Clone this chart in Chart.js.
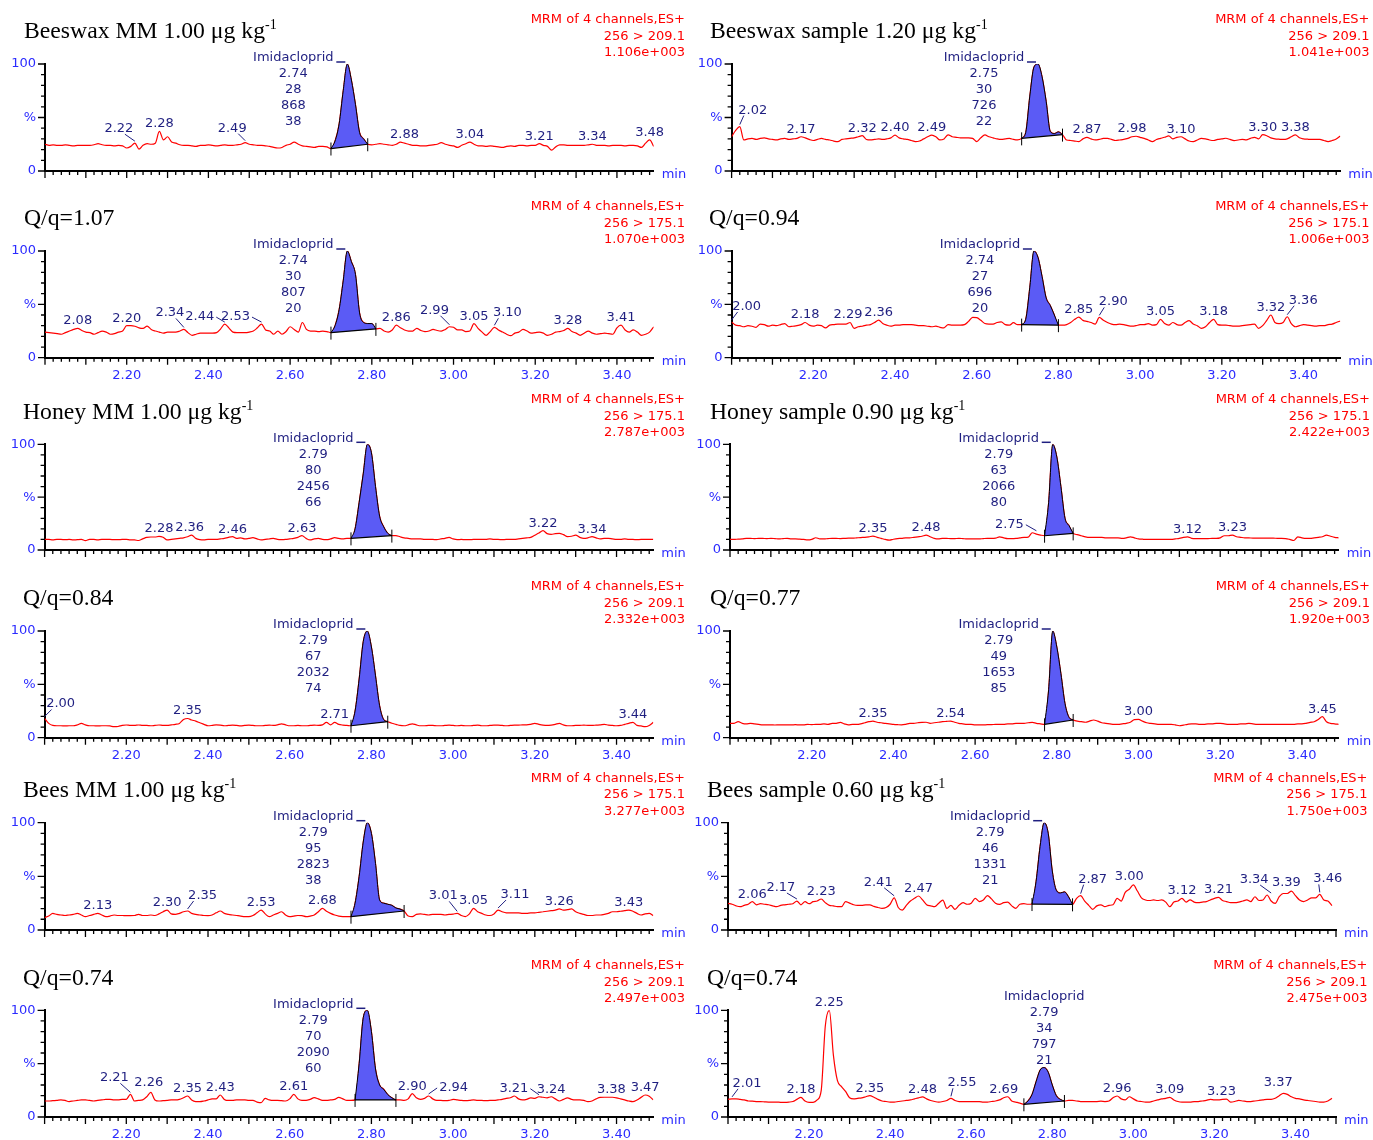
<!DOCTYPE html>
<html>
<head>
<meta charset="utf-8">
<script src="https://cdn.jsdelivr.net/npm/chart.js@4.4.0/dist/chart.umd.min.js"></script>
<style>
  body { margin: 0; background: #fff; width: 1373px; height: 1140px; position: relative; overflow: hidden; }
  canvas { position: absolute; }
  .ttl { position: absolute; font-family: "Liberation Serif", "Times New Roman", serif; font-size: 23.7px; line-height: 23.7px; white-space: nowrap; color: #000; }
  .ttl span { font-size: 14px; position: relative; top: -9px; }
  .mrm { position: absolute; width: 300px; font-family: "DejaVu Sans", sans-serif; font-size: 13px; line-height: 16.5px; color: #ff0000; text-align: right; white-space: nowrap; }
</style>
</head>
<body>
<script>
// retention time grid (min)
const rt = [
  2.00, 2.01, 2.02, 2.03, 2.04, 2.05, 2.06, 2.07, 2.08, 2.09,
  2.10, 2.11, 2.12, 2.13, 2.14, 2.15, 2.16, 2.17, 2.18, 2.19,
  2.20, 2.21, 2.22, 2.23, 2.24, 2.25, 2.26, 2.27, 2.28, 2.29,
  2.30, 2.31, 2.32, 2.33, 2.34, 2.35, 2.36, 2.37, 2.38, 2.39,
  2.40, 2.41, 2.42, 2.43, 2.44, 2.45, 2.46, 2.47, 2.48, 2.49,
  2.50, 2.51, 2.52, 2.53, 2.54, 2.55, 2.56, 2.57, 2.58, 2.59,
  2.60, 2.61, 2.62, 2.63, 2.64, 2.65, 2.66, 2.67, 2.68, 2.69,
  2.70, 2.71, 2.72, 2.73, 2.74, 2.75, 2.76, 2.77, 2.78, 2.79,
  2.80, 2.81, 2.82, 2.83, 2.84, 2.85, 2.86, 2.87, 2.88, 2.89,
  2.90, 2.91, 2.92, 2.93, 2.94, 2.95, 2.96, 2.97, 2.98, 2.99,
  3.00, 3.01, 3.02, 3.03, 3.04, 3.05, 3.06, 3.07, 3.08, 3.09,
  3.10, 3.11, 3.12, 3.13, 3.14, 3.15, 3.16, 3.17, 3.18, 3.19,
  3.20, 3.21, 3.22, 3.23, 3.24, 3.25, 3.26, 3.27, 3.28, 3.29,
  3.30, 3.31, 3.32, 3.33, 3.34, 3.35, 3.36, 3.37, 3.38, 3.39,
  3.40, 3.41, 3.42, 3.43, 3.44, 3.45, 3.46, 3.47, 3.48, 3.49
];
const xTickLabels = [2.2, 2.4, 2.6, 2.8, 3.0, 3.2, 3.4];
const yTickValues = [0, 50, 100];

// intensities (%) on the rt grid
const bwMM209 = [
  25, 24, 24.5, 24, 24, 24.5, 24, 23.5, 24, 24,
  24, 24, 24.5, 25.5, 24.5, 24, 24, 23.5, 24, 23.5,
  21.5, 23, 26, 20.5, 24, 25.5, 25, 26, 37, 29,
  32, 27, 26, 24.5, 24, 24, 23.5, 23, 24, 24,
  24.5, 24, 23.5, 24, 24.5, 24, 24, 24.5, 25, 26.5,
  25, 24.5, 24, 24, 23.5, 23, 22, 21.5, 22, 24,
  25, 27, 25, 23.5, 23, 22.5, 22, 23, 23, 22.5,
  21, 28, 44, 75, 100, 85, 62, 36, 30, 25,
  24.5, 25, 25.5, 25, 24.5, 24, 25, 27, 26, 25,
  24, 24, 23.5, 23.5, 24, 24.5, 25, 26.5, 25, 24,
  23.5, 22, 24, 25.5, 27, 25, 23.5, 23.5, 23, 23.5,
  23, 22.5, 22, 23, 23.5, 23, 24, 24, 23.5, 24,
  24, 25.5, 24, 23, 19.5, 22.5, 24.5, 24.5, 24, 24,
  24, 24, 24, 24.5, 25, 24, 24, 24, 23.5, 24,
  24, 24, 23.5, 24, 24, 23.5, 22, 26, 29, 23
];
const bwMM175 = [
  24, 23.5, 23, 22.5, 22, 23.5, 25, 26.5, 27.5, 25.5,
  24, 23.5, 22, 23.5, 25, 24, 22, 22.5, 24, 25,
  30, 30, 29.5, 28, 27.5, 29.5, 26.5, 25, 24, 23,
  24, 24, 24, 25, 26.5, 23.5, 21, 22, 23, 23,
  23, 23, 23.5, 27, 31.5, 28, 24, 23.5, 23.5, 23.5,
  24, 25, 28, 31.5, 26, 25, 22, 25, 22, 24.5,
  29, 26.5, 24, 33, 26.5, 25, 25, 24.5, 25, 24.5,
  23.5, 30, 45, 72, 100, 90, 78, 42, 33, 32,
  32, 27, 27.5, 25, 24, 26, 30.5, 28, 26, 25,
  25, 27.5, 25.5, 24.5, 25, 26.5, 25.5, 25, 26.5, 29,
  28.5, 26, 26, 24.5, 25, 32, 27.5, 24, 21, 24.5,
  28.5, 26, 24, 22, 20.6, 23, 24, 26.5, 25, 23,
  23.5, 24, 23, 21, 22, 24, 24.5, 25.5, 27.5, 24.5,
  23, 21, 23, 25, 23, 22, 22.5, 23, 22.5, 22,
  28, 30.5, 26, 24, 26, 24, 21, 22, 24, 29
];
const bwS209 = [
  32, 38, 41.5, 29, 30, 30.5, 29.5, 30.5, 31, 30,
  29.5, 29, 30, 30.5, 29.5, 30, 30.5, 32, 31, 29.5,
  28.5, 29.5, 30.5, 29.5, 29, 28, 27.5, 29.5, 30, 30.5,
  31, 32, 33, 29.5, 29, 29.5, 30, 29.5, 30, 31,
  33.5, 31, 30, 29.5, 28.5, 27.5, 28, 30, 32, 33.5,
  32, 29, 30, 33.8, 32, 31.5, 31, 31, 31, 30.5,
  27.5, 31, 33.8, 32, 31, 30, 29.5, 30, 30.5, 29.5,
  29, 30.5, 36, 70, 97, 100, 88, 65, 37, 35,
  36.5, 34, 29, 28.5, 28, 27.5, 30, 31.5, 30, 29,
  29.5, 30.5, 30.5, 29.5, 28.5, 29, 29.5, 30.5, 32, 32.5,
  31.5, 30.5, 29, 27.5, 29.5, 30.5, 31.5, 32.8, 30, 31.5,
  32, 30, 28, 27.5, 29, 30.5, 30, 29, 28.5, 29.5,
  30, 30.6, 29.5, 28.4, 29, 29.5, 29, 30.5, 31.5, 30,
  34, 33, 31, 30, 29.7, 29.5, 30, 32, 33.8, 31,
  30, 29.7, 29.5, 29.5, 29.5, 28.5, 27.5, 28.5, 30, 32.8
];
const bwS175 = [
  33.5, 30.5, 30, 29, 30, 29.5, 28.5, 31.5, 31, 29.5,
  30.5, 30, 31, 32, 29, 29.5, 30, 31, 33, 30.5,
  29.5, 30.5, 30, 28, 30.5, 31, 31.5, 31.5, 31.5, 33,
  27.5, 29, 29.5, 30.5, 31, 33, 35.3, 32, 30.5, 29.5,
  30.5, 30.5, 31, 31, 31, 30.5, 30, 30, 29.5, 29,
  29.5, 28.5, 28, 31, 30.5, 30.5, 30.5, 31, 34, 37.8,
  37.5, 35, 32, 31.5, 31.5, 33, 33.5, 31, 30.5, 32.8,
  31, 31, 36, 66, 100, 94, 76, 56, 49, 40,
  30.5, 30.5, 31, 33, 36, 38, 35, 34, 33, 31.5,
  37.8, 35, 33, 31.5, 31, 31.5, 31, 30, 29.5, 30,
  31, 31, 32, 30.5, 31, 36, 32, 30.5, 33, 31,
  30.5, 33, 34.7, 31.5, 30, 27.5, 29, 33, 36, 31,
  30.5, 30.5, 30, 29.5, 29.5, 30, 30.5, 31, 31.5, 27.5,
  30, 35, 40, 33, 32, 33, 38.4, 32, 29, 30,
  31, 30.5, 30, 29.5, 30, 30, 31, 31.5, 33, 34.4
];
const hoMM175 = [
  10, 10, 9.5, 10, 10, 9.8, 10, 9.5, 9.8, 10,
  8.8, 10, 10, 9.5, 10, 10, 10, 9.8, 9.8, 10,
  10, 9.5, 9.5, 9, 10.5, 12, 12.3, 12.3, 12.8, 12,
  9.5, 10, 10.5, 11, 11.5, 12.5, 14, 11, 9.8, 9.5,
  10, 10, 10, 10.5, 11, 12, 12.6, 11, 11.5, 10.5,
  11, 11.7, 10.5, 9.5, 10, 10.5, 11, 10, 9.8, 10,
  10.5, 11, 12, 13.6, 11, 9.5, 10.5, 11, 10, 9.8,
  10.5, 11.7, 11, 10.5, 11, 11, 20, 45, 72, 100,
  92, 60, 32, 22, 15.8, 13.6, 13.6, 12.5, 11.5, 11,
  10.5, 10.5, 10.5, 10, 10, 10, 9.8, 10.5, 11, 12,
  10.5, 9.8, 10, 9.8, 9.8, 10, 10, 10, 10, 10.5,
  10, 10, 9.8, 10, 10, 10, 10.5, 11, 11.5, 12,
  14, 16, 18.3, 15.5, 14.8, 15.5, 15.8, 14.5, 12.6, 13,
  14, 12, 11, 11.5, 12.6, 11.5, 10.5, 11, 11, 10.5,
  10, 10, 10.5, 10, 10, 9.8, 10, 10, 10, 10
];
const hoMM209 = [
  18, 13.4, 11.5, 11.2, 11.2, 11, 11.2, 11.2, 12, 13.4,
  12, 11.2, 11.2, 11, 11.2, 11.2, 11, 10.3, 10.5, 11.5,
  11.9, 11.5, 11.5, 11.9, 11.5, 11.5, 11.2, 11.5, 11.9, 11.5,
  11.5, 12, 12.5, 13.4, 17, 18, 16.6, 15.5, 14, 12.5,
  11.2, 11.5, 12, 11.8, 11.2, 11.5, 11.8, 11.5, 11, 11.5,
  11.8, 11.5, 11.2, 11.2, 11.5, 11.8, 11.5, 12, 13, 12,
  11.2, 11.2, 11.5, 11.2, 11.2, 11.5, 11.8, 11.5, 12, 14.4,
  12, 14.4, 12.5, 11.8, 11.5, 11.2, 25, 55, 90, 100,
  85, 58, 30, 17, 15, 13.5, 12.5, 11.5, 11.2, 12,
  13, 12, 11.2, 11.2, 11.5, 11.5, 11.2, 11.2, 11.5, 11.8,
  11.5, 11.2, 11.5, 11.2, 11.2, 11.5, 11.8, 11.2, 11.2, 11.5,
  11.8, 11.8, 11.5, 11.2, 11.5, 11.8, 11.8, 12, 12, 12.5,
  13.4, 12.5, 11.8, 11.5, 11.8, 12.5, 13.4, 12, 11.2, 11.2,
  11.5, 11.5, 11.8, 11.5, 11.5, 11.8, 12, 12.5, 11.8, 11.5,
  11.2, 11.5, 12.5, 13.5, 14.4, 11.5, 11, 10.3, 11.5, 14.4
];
const hoS175 = [
  10, 10, 10.3, 10.5, 11, 11, 10.8, 11, 11, 10.8,
  11, 10.8, 10.5, 10.8, 11, 10.5, 10.5, 10.3, 10, 9.5,
  10, 11.6, 10.5, 10.5, 10.8, 11, 11, 10.8, 11, 11.2,
  11.2, 11.5, 11.8, 12, 12.5, 13.2, 12, 11, 10, 9.4,
  10.2, 10.8, 11, 11.5, 11.5, 12, 12.5, 13, 14.1, 12.5,
  11, 10.5, 11, 11, 10.8, 10.8, 11, 10.8, 10.5, 10.5,
  10.5, 10.5, 10.8, 11, 11, 11.2, 12.5, 11.5, 10.8, 10.8,
  11, 11.5, 12, 12.2, 16.3, 15, 14.1, 13.5, 45, 100,
  88, 60, 30, 23, 15.7, 14.5, 13.5, 12.5, 12, 12,
  12, 12, 11.5, 11.5, 11.5, 11.5, 11, 11.5, 12.5, 11.5,
  10.5, 10.2, 10, 10, 10, 10, 10, 10, 10, 10.5,
  11, 12, 12.5, 11, 10.8, 10.8, 10.8, 10.8, 11, 11,
  11.5, 13.5, 13.5, 14.1, 12.5, 12, 11.5, 11.5, 11.2, 11.2,
  11.2, 11.2, 11.2, 11.2, 11, 11, 10.8, 10, 9, 12.5,
  11.5, 11, 11, 11.5, 12, 12.5, 14.1, 13, 12, 11.5
];
const hoS209 = [
  13.4, 13.5, 15, 13.5, 13, 13.5, 13, 12.5, 12, 12,
  12, 11.9, 12, 12, 12, 12, 12.2, 12, 12, 12.5,
  12.2, 12.5, 12.5, 13, 12.5, 13.4, 13.5, 14.4, 13, 12,
  12.5, 12.5, 13, 14, 15, 15.6, 14.5, 14, 13.4, 13,
  12.5, 12.2, 12, 12.5, 13.4, 13.5, 14, 14.4, 14.5, 13.5,
  14, 14.5, 15, 15.3, 15.6, 14.5, 13.5, 13, 12.5, 12.5,
  12, 12, 12, 12.2, 12.2, 12.5, 12.5, 12.5, 13, 13,
  13.4, 13.4, 13.5, 14, 14.4, 13.5, 13, 12.5, 45, 100,
  85, 60, 32, 19, 16.6, 15.5, 15, 14.5, 15.5, 16.6,
  15.5, 14, 13.5, 13, 12.5, 12.5, 13, 13.5, 14.5, 17,
  17.2, 15.5, 14, 13.4, 13, 12.5, 12.5, 12.5, 12.5, 12,
  11.2, 11.8, 12.5, 13, 13, 12.5, 12.5, 13, 13, 13.4,
  13.4, 13, 12.5, 12.5, 12.5, 13, 13, 13.4, 13, 12.5,
  12.5, 12.5, 12.5, 12.5, 12.5, 12.5, 12.5, 12.5, 12.5, 13,
  13, 13.5, 14.4, 15, 17, 19.7, 15, 13.4, 13, 12.5
];
const beMM175 = [
  11.5, 13, 15.5, 14.5, 14, 13.5, 14, 14.5, 15.5, 14,
  12.4, 13.5, 14.5, 15.5, 14, 12.5, 13, 14, 13.5, 13.5,
  13.4, 13.4, 13.5, 14.6, 13.5, 13.5, 14, 13.5, 15, 17,
  18.6, 15, 14.5, 15.5, 17, 17.7, 15.5, 14.5, 14, 13.5,
  13.4, 14, 16, 17.7, 15.5, 14.5, 14, 13.5, 13, 12.4,
  12.4, 13.5, 16, 18.6, 15, 12.4, 14, 15.5, 17, 14,
  12.4, 13, 13.5, 13.4, 12.5, 13, 14, 17, 20.2, 17.5,
  15.5, 14, 13, 12.5, 12.4, 12.4, 25, 50, 82, 100,
  90, 62, 28, 25, 24, 23, 20.5, 19.5, 17.7, 13,
  12.4, 14.5, 15, 14.5, 14, 14.5, 14.5, 14.5, 14, 14.5,
  14.8, 15.5, 13.5, 12.5, 15, 20.2, 17, 15.5, 14, 13.5,
  15, 18.6, 17, 16, 16, 16, 16, 15.5, 15.5, 16,
  16, 16.5, 17, 17.5, 18, 18.5, 19.6, 18.5, 19, 19.6,
  17, 15.5, 14.5, 13.5, 13.5, 14, 14, 14.5, 15.5, 17,
  17, 17.5, 18, 18.6, 17.5, 15.5, 14, 15, 15.5, 13.4
];
const beMM209 = [
  15, 15, 15.3, 15.5, 16, 15.5, 14.5, 15, 15.5, 16,
  16, 15.5, 15, 15.5, 16, 16.5, 16.6, 16, 16, 16.5,
  16.6, 21.2, 15, 15.5, 16, 19, 23.1, 16, 15, 15.3,
  15.5, 16, 16, 16.5, 18, 19.7, 16, 14.5, 14.4, 15,
  16, 17, 17, 20.6, 16.5, 15.5, 15.5, 16, 16, 16,
  15.5, 15.5, 14, 13.4, 17.5, 16, 15.5, 15.5, 15.3, 15,
  17, 21.2, 17, 15.5, 15.5, 16.5, 18.1, 17, 15.5, 15.5,
  16, 16.5, 18.4, 17, 15.5, 15.5, 16, 50, 93, 100,
  80, 45, 30, 26, 21, 18, 16, 16, 15.5, 17,
  22, 18, 16.5, 17.5, 19.7, 17, 15.5, 15.5, 15.3, 15.5,
  16.5, 16, 15.5, 15.3, 15.5, 16, 15.5, 15.5, 15.3, 15.5,
  15.5, 16, 16.5, 17.5, 18, 19.7, 17, 16, 16.5, 18,
  17.5, 19, 18.5, 18, 19, 17, 15, 16.5, 18, 16.5,
  16, 16, 15.5, 14.4, 15, 17, 18.4, 18.5, 18.5, 18.5,
  18, 17, 16, 15, 14.4, 16, 18.4, 20.6, 19.5, 16
];
const beS175 = [
  24.8, 24, 22.5, 21.7, 23, 24, 26.4, 23.5, 24.5, 24,
  23.5, 22.5, 21.7, 23, 23.5, 24, 24.5, 27, 23.5, 26.4,
  24.5, 26.4, 27, 28.9, 25.5, 23, 22.5, 21.7, 21.7, 26.4,
  25, 23.5, 23, 23, 23.5, 23.5, 22, 21, 20.2, 21,
  24, 30, 21, 18.6, 23, 27, 29.5, 31.7, 28, 23.5,
  22.5, 21.7, 25, 27.9, 20.2, 23, 19.3, 23, 25.5, 24,
  25, 29.5, 26.5, 28, 32, 29, 25, 23.9, 25.5, 26,
  22.5, 20.2, 24, 24.5, 24, 24.2, 45, 78, 100, 90,
  55, 37, 34.5, 35.5, 31, 23.9, 29.5, 32, 27, 23,
  19.3, 22.5, 23.5, 21.7, 23, 23.5, 29.5, 27, 35, 38,
  42, 36.3, 30, 28, 27.5, 28, 27.5, 28, 26, 21.7,
  26, 27, 29.5, 26, 28, 26, 25.5, 26, 26.5, 28,
  29.5, 30.4, 27.5, 26.5, 25.5, 25.5, 26, 27, 28, 26.5,
  31, 27.5, 28, 32.6, 27, 24.8, 31, 34, 34, 36.3,
  32, 28, 26.5, 28, 30, 30, 33.2, 28, 27, 22.7
];
const beS209 = [
  16.6, 17, 17, 16.5, 16, 15, 14.8, 14.5, 14.4, 14.2,
  14, 14, 14, 13.8, 13.8, 14, 14.5, 16.5, 18.4, 15,
  13.8, 13.8, 16, 25, 85, 100, 58, 34, 28.5, 24,
  18, 17, 17.5, 18, 19, 20, 18.5, 16.5, 15, 14.5,
  14, 14, 14.5, 15, 15.5, 16, 17, 18, 18.8, 17,
  15.5, 14.5, 14, 14.5, 15.5, 17.5, 15.5, 14.5, 14.5, 14.5,
  14.5, 14.5, 14.5, 14, 14, 14.5, 15, 16, 18, 19,
  15, 14, 13, 11.9, 15, 21, 33, 44, 46.3, 42,
  30, 20, 16.5, 15, 15.5, 15.5, 15, 14.5, 14.5, 14.5,
  14.5, 14.5, 14.8, 14.5, 15, 18.1, 19.7, 17, 16, 19,
  17, 15, 14.5, 14, 14, 15, 16, 17, 17.5, 18.4,
  16, 14.5, 14, 14, 14, 14.5, 14.5, 15, 15.5, 16.6,
  16, 16, 16.6, 16.8, 14, 14.5, 15.5, 15, 14.5, 14.5,
  15, 15.5, 16, 16.5, 16.5, 17.5, 20, 22.2, 21.2, 19,
  17.5, 17, 16, 15.5, 15, 14.5, 14, 14, 15, 17.5
];

// integration windows (start, end rt)
const bwMM209Peak = [2.70, 2.79];
const bwMM175Peak = [2.70, 2.81];
const bwS209Peak = [2.71, 2.81];
const bwS175Peak = [2.71, 2.80];
const hoMM175Peak = [2.75, 2.85];
const hoMM209Peak = [2.75, 2.84];
const hoS175Peak = [2.77, 2.84];
const hoS209Peak = [2.77, 2.84];
const beMM175Peak = [2.75, 2.88];
const beMM209Peak = [2.76, 2.86];
const beS175Peak = [2.75, 2.85];
const beS209Peak = [2.73, 2.83];

// peak report: rt, height, area, S/N
const bwMM209Info = ['2.74', '28', '868', '38'];
const bwMM175Info = ['2.74', '30', '807', '20'];
const bwS209Info = ['2.75', '30', '726', '22'];
const bwS175Info = ['2.74', '27', '696', '20'];
const hoMM175Info = ['2.79', '80', '2456', '66'];
const hoMM209Info = ['2.79', '67', '2032', '74'];
const hoS175Info = ['2.79', '63', '2066', '80'];
const hoS209Info = ['2.79', '49', '1653', '85'];
const beMM175Info = ['2.79', '95', '2823', '38'];
const beMM209Info = ['2.79', '70', '2090', '60'];
const beS175Info = ['2.79', '46', '1331', '21'];
const beS209Info = ['2.79', '34', '797', '21'];

// labelled minor peaks
const bwMM209Tags = ['2.22', '2.28', '2.49', '2.88', '3.04', '3.21', '3.34', '3.48'];
const bwMM175Tags = ['2.08', '2.20', '2.34', '2.44', '2.53', '2.86', '2.99', '3.05', '3.10', '3.28', '3.41'];
const bwS209Tags = ['2.02', '2.17', '2.32', '2.40', '2.49', '2.87', '2.98', '3.10', '3.30', '3.38'];
const bwS175Tags = ['2.00', '2.18', '2.29', '2.36', '2.85', '2.90', '3.05', '3.18', '3.32', '3.36'];
const hoMM175Tags = ['2.28', '2.36', '2.46', '2.63', '3.22', '3.34'];
const hoMM209Tags = ['2.00', '2.35', '2.71', '3.44'];
const hoS175Tags = ['2.35', '2.48', '2.75', '3.12', '3.23'];
const hoS209Tags = ['2.35', '2.54', '3.00', '3.45'];
const beMM175Tags = ['2.13', '2.30', '2.35', '2.53', '2.68', '3.01', '3.05', '3.11', '3.26', '3.43'];
const beMM209Tags = ['2.21', '2.26', '2.35', '2.43', '2.61', '2.90', '2.94', '3.21', '3.24', '3.38', '3.47'];
const beS175Tags = ['2.06', '2.17', '2.23', '2.41', '2.47', '2.87', '3.00', '3.12', '3.21', '3.34', '3.39', '3.46'];
const beS209Tags = ['2.01', '2.18', '2.25', '2.35', '2.48', '2.55', '2.69', '2.96', '3.09', '3.23', '3.37'];

const panels = [
  { id: 'L1', title: 'Beeswax MM 1.00 \u03bcg kg', sup: true, values: bwMM209, peak: bwMM209Peak, info: bwMM209Info, tags: bwMM209Tags, trans: '256 > 209.1', scale: '1.106e+003' },
  { id: 'L2', title: 'Q/q=1.07', values: bwMM175, peak: bwMM175Peak, info: bwMM175Info, tags: bwMM175Tags, trans: '256 > 175.1', scale: '1.070e+003' },
  { id: 'R1', title: 'Beeswax sample 1.20 \u03bcg kg', sup: true, values: bwS209, peak: bwS209Peak, info: bwS209Info, tags: bwS209Tags, trans: '256 > 209.1', scale: '1.041e+003' },
  { id: 'R2', title: 'Q/q=0.94', values: bwS175, peak: bwS175Peak, info: bwS175Info, tags: bwS175Tags, trans: '256 > 175.1', scale: '1.006e+003' },
  { id: 'L3', title: 'Honey MM 1.00 \u03bcg kg', sup: true, values: hoMM175, peak: hoMM175Peak, info: hoMM175Info, tags: hoMM175Tags, trans: '256 > 175.1', scale: '2.787e+003' },
  { id: 'L4', title: 'Q/q=0.84', values: hoMM209, peak: hoMM209Peak, info: hoMM209Info, tags: hoMM209Tags, trans: '256 > 209.1', scale: '2.332e+003' },
  { id: 'R3', title: 'Honey sample 0.90 \u03bcg kg', sup: true, values: hoS175, peak: hoS175Peak, info: hoS175Info, tags: hoS175Tags, trans: '256 > 175.1', scale: '2.422e+003' },
  { id: 'R4', title: 'Q/q=0.77', values: hoS209, peak: hoS209Peak, info: hoS209Info, tags: hoS209Tags, trans: '256 > 209.1', scale: '1.920e+003' },
  { id: 'L5', title: 'Bees MM 1.00 \u03bcg kg', sup: true, values: beMM175, peak: beMM175Peak, info: beMM175Info, tags: beMM175Tags, trans: '256 > 175.1', scale: '3.277e+003' },
  { id: 'L6', title: 'Q/q=0.74', values: beMM209, peak: beMM209Peak, info: beMM209Info, tags: beMM209Tags, trans: '256 > 209.1', scale: '2.497e+003' },
  { id: 'R5', title: 'Bees sample 0.60 \u03bcg kg', sup: true, values: beS175, peak: beS175Peak, info: beS175Info, tags: beS175Tags, trans: '256 > 175.1', scale: '1.750e+003' },
  { id: 'R6', title: 'Q/q=0.74', values: beS209, peak: beS209Peak, info: beS209Info, tags: beS209Tags, trans: '256 > 209.1', scale: '2.475e+003' }
];

// page layout of each plot area (px)
const boxes = {
  L1: { left: 45, top: 64, bottom: 171, width: 608.7, xMax: 3.49, xLabels: false, titleX: 24, infoRight: 685 },
  L2: { left: 45, top: 251, bottom: 357.7, width: 608.7, xMax: 3.49, xLabels: true, titleX: 24, infoRight: 685 },
  L3: { left: 44.6, top: 444.3, bottom: 550, width: 608.7, xMax: 3.49, xLabels: false, titleX: 23, infoRight: 685 },
  L4: { left: 44.6, top: 631, bottom: 737.7, width: 608.7, xMax: 3.49, xLabels: true, titleX: 23, infoRight: 685 },
  L5: { left: 44.6, top: 822.7, bottom: 930, width: 608.7, xMax: 3.49, xLabels: false, titleX: 23, infoRight: 685 },
  L6: { left: 44.6, top: 1010.3, bottom: 1117, width: 608.7, xMax: 3.49, xLabels: true, titleX: 23, infoRight: 685 },
  R1: { left: 731.6, top: 64, bottom: 171, width: 608.7, xMax: 3.49, xLabels: false, titleX: 710, infoRight: 1369.5 },
  R2: { left: 731.6, top: 251, bottom: 357.7, width: 608.7, xMax: 3.49, xLabels: true, titleX: 709, infoRight: 1369.5 },
  R3: { left: 730, top: 444.3, bottom: 550, width: 608.7, xMax: 3.49, xLabels: false, titleX: 710, infoRight: 1370 },
  R4: { left: 730, top: 631, bottom: 737.7, width: 608.7, xMax: 3.49, xLabels: true, titleX: 710, infoRight: 1370 },
  R5: { left: 728, top: 822.7, bottom: 930, width: 608, xMax: 3.50, xLabels: false, titleX: 707, infoRight: 1367.5 },
  R6: { left: 728, top: 1010.3, bottom: 1117, width: 608, xMax: 3.50, xLabels: true, titleX: 707, infoRight: 1367.5, blockAbove: true }
};

// label offsets [dx px, gap px above the peak]
const tagShift = {
  L1: { '2.22': [-16, 11], '2.49': [-13, 11] },
  L2: { '2.34': [-14, 13], '2.44': [-25, 4], '2.53': [-26, 4], '2.99': [-15, 13], '3.10': [13, 11] },
  R1: { '2.02': [13, 13] },
  R2: { '2.00': [15, 12], '2.29': [-2, 4], '2.90': [14, 12], '3.36': [16, 13] },
  L3: { '2.36': [-2, 4] },
  L4: { '2.00': [16, 11] },
  R3: { '2.75': [-27, 5] },
  R4: {},
  L5: { '2.35': [15, 12], '3.01': [-14, 14], '3.11': [17, 12] },
  L6: { '2.21': [-16, 13], '2.26': [-2, 6], '2.94': [25, 5], '3.21': [-25, 5], '3.38': [3, 4] },
  R5: { '2.17': [-16, 10], '2.41': [-16, 12], '2.87': [12, 13], '3.00': [-4, 5], '3.34': [-17, 12], '3.39': [-5, 5], '3.46': [8, 12] },
  R6: { '2.01': [15, 12], '2.55': [11, 12], '2.69': [-4, 4], '3.23': [-5, 4], '3.37': [-5, 7] }
};

const AXIS_BLUE = '#2b2bff';
const NAVY = '#1f1f80';
const SANS = '"DejaVu Sans", sans-serif';
Chart.defaults.font.family = SANS;
Chart.defaults.font.size = 13;

const idxOf = t => Math.round((t - 2) * 100);

const chromPlugin = {
  id: 'chrom',
  afterDraw(chart, args, opts) {
    const p = opts.panel;
    const box = boxes[p.id];
    const { ctx, chartArea: a, scales: { x, y } } = chart;
    ctx.save();

    // minor / major tick marks
    ctx.strokeStyle = '#000';
    ctx.lineWidth = 1.3;
    ctx.beginPath();
    for (let k = 0; ; k++) {
      const v = 2 + k * 0.02;
      if (v > x.max + 1e-6) break;
      const px = x.getPixelForValue(v);
      const len = k % 5 === 0 ? 7 : 4;
      ctx.moveTo(px, a.bottom);
      ctx.lineTo(px, a.bottom + len);
    }
    for (let k = 0; k <= 10; k++) {
      const py = y.getPixelForValue(k * 10);
      const len = k % 5 === 0 ? 7 : 4;
      ctx.moveTo(a.left, py);
      ctx.lineTo(a.left - len, py);
    }
    ctx.stroke();

    ctx.font = '13px ' + SANS;
    ctx.fillStyle = AXIS_BLUE;
    ctx.textAlign = 'left';
    ctx.textBaseline = 'middle';
    ctx.fillText('min', a.right + 8, a.bottom + 4);

    // integration baseline end markers
    const vals = p.values;
    const i0 = idxOf(p.peak[0]), i1 = idxOf(p.peak[1]);
    ctx.strokeStyle = '#000';
    ctx.lineWidth = 1;
    ctx.beginPath();
    [i0, i1].forEach(i => {
      const px = x.getPixelForValue(rt[i]);
      const py = y.getPixelForValue(vals[i]);
      ctx.moveTo(px, py - 6);
      ctx.lineTo(px, py + 7);
    });
    ctx.stroke();

    // apex + peak report
    let ia = i0;
    for (let i = i0; i <= i1; i++) if (vals[i] > vals[ia]) ia = i;
    const ax = x.getPixelForValue(rt[ia]);
    const ay = y.getPixelForValue(vals[ia]);
    const lines = ['Imidacloprid'].concat(p.info);
    ctx.fillStyle = NAVY;
    ctx.textAlign = 'center';
    ctx.textBaseline = 'middle';
    let cx, cy0;
    if (box.blockAbove) {
      cx = ax;
      cy0 = ay - 70.5;
    } else {
      cx = ax - 54;
      cy0 = a.top - 6;
      ctx.strokeStyle = NAVY;
      ctx.lineWidth = 1.5;
      ctx.beginPath();
      ctx.moveTo(ax - 11, ay - 2);
      ctx.lineTo(ax - 2, ay - 2);
      ctx.stroke();
    }
    lines.forEach((s, k) => ctx.fillText(s, cx, cy0 + 16 * k));

    // minor peak labels
    const shifts = tagShift[p.id] || {};
    ctx.textBaseline = 'alphabetic';
    ctx.strokeStyle = NAVY;
    ctx.lineWidth = 1;
    p.tags.forEach(s => {
      const t = parseFloat(s);
      const i = idxOf(t);
      let vmax = vals[i];
      if (i > 0) vmax = Math.max(vmax, vals[i - 1]);
      if (i < vals.length - 1) vmax = Math.max(vmax, vals[i + 1]);
      const px = x.getPixelForValue(t);
      const py = y.getPixelForValue(vmax);
      const [dx, gap] = shifts[s] || [0, 4];
      const lx = px + dx;
      const by = py - gap;
      ctx.fillText(s, lx, by);
      if (Math.abs(dx) >= 8) {
        const w = ctx.measureText(s).width;
        let sx, sy;
        if (Math.abs(dx) > 20) {
          sx = dx < 0 ? lx + w / 2 + 2 : lx - w / 2 - 2;
          sy = by - 3;
        } else {
          sx = dx < 0 ? lx + 6 : lx - 9;
          sy = by + 2;
        }
        ctx.beginPath();
        ctx.moveTo(sx, sy);
        ctx.lineTo(px, py - 2);
        ctx.stroke();
      }
    });
    ctx.restore();
  }
};

function addText(p, box) {
  const t = document.createElement('div');
  t.className = 'ttl';
  t.style.left = box.titleX + 'px';
  t.style.top = (box.top - 25 - 19.8) + 'px';
  t.textContent = p.title;
  if (p.sup) {
    const s = document.createElement('span');
    s.textContent = '-1';
    t.appendChild(s);
  }
  document.body.appendChild(t);

  const m = document.createElement('div');
  m.className = 'mrm';
  m.style.left = (box.infoRight - 300) + 'px';
  m.style.top = (box.top - 53) + 'px';
  m.innerHTML = 'MRM of 4 channels,ES+<br>' + p.trans.replace('>', '&gt;') + '<br>' + p.scale;
  document.body.appendChild(m);
}

function buildPanel(p) {
  const box = boxes[p.id];
  const cl = Math.floor(box.left) - 50;
  const ct = Math.floor(box.top) - 70;
  const cw = Math.ceil(box.left + box.width) - cl + 45;
  const ch = Math.ceil(box.bottom) - ct + 32;
  const canvas = document.createElement('canvas');
  canvas.width = cw;
  canvas.height = ch;
  canvas.style.left = cl + 'px';
  canvas.style.top = ct + 'px';
  canvas.style.width = cw + 'px';
  canvas.style.height = ch + 'px';
  document.body.appendChild(canvas);

  const pts = rt.map((t, i) => ({ x: t, y: p.values[i] }));
  const i0 = idxOf(p.peak[0]), i1 = idxOf(p.peak[1]);
  const peakPts = pts.slice(i0, i1 + 1);
  const basePts = [pts[i0], pts[i1]];

  new Chart(canvas, {
    type: 'line',
    data: {
      datasets: [
        { data: pts, borderColor: '#ff0000', borderWidth: 1.2, pointRadius: 0, cubicInterpolationMode: 'monotone', fill: false, order: 2 },
        { data: peakPts, borderColor: '#000000', borderWidth: 1, backgroundColor: '#5b5bf5', pointRadius: 0, cubicInterpolationMode: 'monotone', fill: '+1', order: 1 },
        { data: basePts, borderColor: '#000000', borderWidth: 1.2, pointRadius: 0, fill: false, order: 0 }
      ]
    },
    options: {
      responsive: false,
      animation: false,
      devicePixelRatio: 1,
      layout: {
        padding: {
          left: 0,
          top: box.top - ct,
          right: cw - (box.left + box.width - cl),
          bottom: ch - (box.bottom - ct) - 30
        }
      },
      plugins: {
        legend: { display: false },
        tooltip: { enabled: false },
        chrom: { panel: p }
      },
      scales: {
        x: {
          type: 'linear',
          min: 2,
          max: box.xMax,
          afterBuildTicks: s => { s.ticks = xTickLabels.map(v => ({ value: v })); },
          afterFit: s => { s.height = 30; },
          grid: { display: false, drawTicks: false },
          border: { display: true, color: '#000', width: 2 },
          ticks: {
            display: box.xLabels,
            color: AXIS_BLUE,
            padding: 10,
            maxRotation: 0,
            autoSkip: false,
            callback: v => Number(v).toFixed(2)
          }
        },
        y: {
          min: 0,
          max: 100,
          afterBuildTicks: s => { s.ticks = yTickValues.map(v => ({ value: v })); },
          afterFit: s => { s.width = box.left - cl; },
          grid: { display: false, drawTicks: false },
          border: { display: true, color: '#000', width: 2 },
          ticks: {
            color: AXIS_BLUE,
            padding: 9,
            callback: v => (v === 50 ? '%' : String(v))
          }
        }
      }
    },
    plugins: [chromPlugin]
  });
  addText(p, box);
}

panels.forEach(buildPanel);
</script>
</body>
</html>
